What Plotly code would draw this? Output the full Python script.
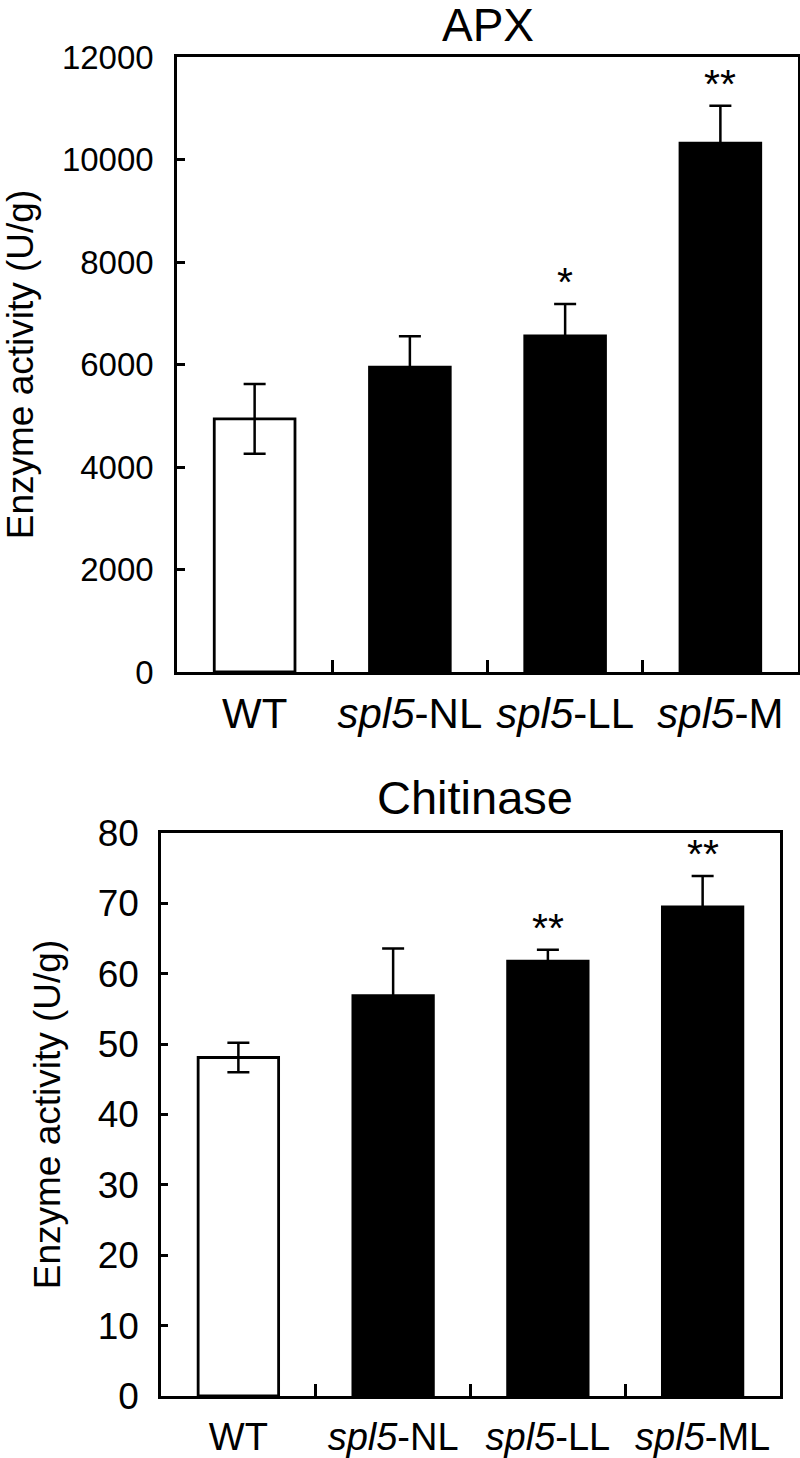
import plotly.graph_objects as go

# ---- data ----
apx_categories = ["WT", "<i>spl5</i>-NL", "<i>spl5</i>-LL", "<i>spl5</i>-M"]
apx_values = [4940, 5950, 6560, 10320]
apx_errors = [680, 600, 620, 730]
apx_sig = ["", "", "*", "**"]

chi_categories = ["WT", "<i>spl5</i>-NL", "<i>spl5</i>-LL", "<i>spl5</i>-ML"]
chi_values = [48.1, 56.9, 61.8, 69.5]
chi_errors = [2.1, 6.7, 1.6, 4.4]
chi_sig = ["", "", "**", "**"]

bar_colors = ["white", "black", "black", "black"]

FONT = "Liberation Sans, Arial, Helvetica, sans-serif"
W, H = 800, 1458

fig = go.Figure()

fig.add_trace(go.Bar(
    x=apx_categories, y=apx_values, xaxis="x", yaxis="y",
    marker=dict(color=bar_colors, line=dict(color="black", width=2.8)),
    width=0.52,
    error_y=dict(type="data", array=apx_errors, visible=True,
                 color="black", thickness=2.5, width=11),
    showlegend=False, hoverinfo="skip",
))
fig.add_trace(go.Bar(
    x=chi_categories, y=chi_values, xaxis="x2", yaxis="y2",
    marker=dict(color=bar_colors, line=dict(color="black", width=2.8)),
    width=0.52,
    error_y=dict(type="data", array=chi_errors, visible=True,
                 color="black", thickness=2.5, width=11),
    showlegend=False, hoverinfo="skip",
))

annotations = []
for cat, v, e, s in zip(apx_categories, apx_values, apx_errors, apx_sig):
    if s:
        annotations.append(dict(x=cat, y=v + e, xref="x", yref="y", text=s,
                                showarrow=False, yanchor="middle", yshift=22,
                                font=dict(family=FONT, size=41, color="black")))
for cat, v, e, s in zip(chi_categories, chi_values, chi_errors, chi_sig):
    if s:
        annotations.append(dict(x=cat, y=v + e, xref="x2", yref="y2", text=s,
                                showarrow=False, yanchor="middle", yshift=22,
                                font=dict(family=FONT, size=41, color="black")))

# panel titles
annotations.append(dict(x=488 / W, y=1 - 25 / H, xref="paper", yref="paper",
                        text="APX", showarrow=False, xanchor="center", yanchor="middle",
                        font=dict(family=FONT, size=46, color="black")))
annotations.append(dict(x=475 / W, y=1 - 797 / H, xref="paper", yref="paper",
                        text="Chitinase", showarrow=False, xanchor="center", yanchor="middle",
                        font=dict(family=FONT, size=47, color="black")))

axis_common = dict(showline=True, linecolor="black", linewidth=2.5, mirror=True,
                   showgrid=False, zeroline=False, automargin=False)

fig.update_layout(
    width=W, height=H,
    margin=dict(l=0, r=0, t=0, b=0, pad=0),
    paper_bgcolor="white", plot_bgcolor="white",
    font=dict(family=FONT, color="black"),
    annotations=annotations,
    xaxis=dict(domain=[177 / W, 798 / W], anchor="y", **axis_common,
               type="category", range=[-0.5, 3.5], tickangle=0,
               ticks="inside", tickson="boundaries", ticklen=12, tickwidth=2.5,
               tickcolor="black", tickfont=dict(family=FONT, size=42, color="black"),
               ticklabelstandoff=3),
    yaxis=dict(domain=[1 - 672 / H, 1 - 57 / H], anchor="x", **axis_common,
               range=[0, 12000], tick0=0, dtick=2000, tickformat="d",
               ticks="inside", ticklen=8, tickwidth=2.5, tickcolor="black",
               tickfont=dict(family=FONT, size=33, color="black"),
               ticklabelstandoff=14,
               title=dict(text="Enzyme activity (U/g)", standoff=24,
                          font=dict(family=FONT, size=37, color="black"))),
    xaxis2=dict(domain=[161 / W, 780 / W], anchor="y2", **axis_common,
                type="category", range=[-0.5, 3.5], tickangle=0,
                ticks="inside", tickson="boundaries", ticklen=12, tickwidth=2.5,
                tickcolor="black", tickfont=dict(family=FONT, size=38, color="black"),
                ticklabelstandoff=6),
    yaxis2=dict(domain=[1 - 1396 / H, 1 - 833 / H], anchor="x2", **axis_common,
                range=[0, 80], tick0=0, dtick=10,
                ticks="inside", ticklen=7, tickwidth=2.5, tickcolor="black",
                tickfont=dict(family=FONT, size=37, color="black"),
                ticklabelstandoff=12,
                title=dict(text="Enzyme activity (U/g)", standoff=26,
                           font=dict(family=FONT, size=37, color="black"))),
)

fig.write_html("out.html",
               config={"displayModeBar": False},
               post_script="document.body.style.margin='0';document.body.style.padding='0';")
